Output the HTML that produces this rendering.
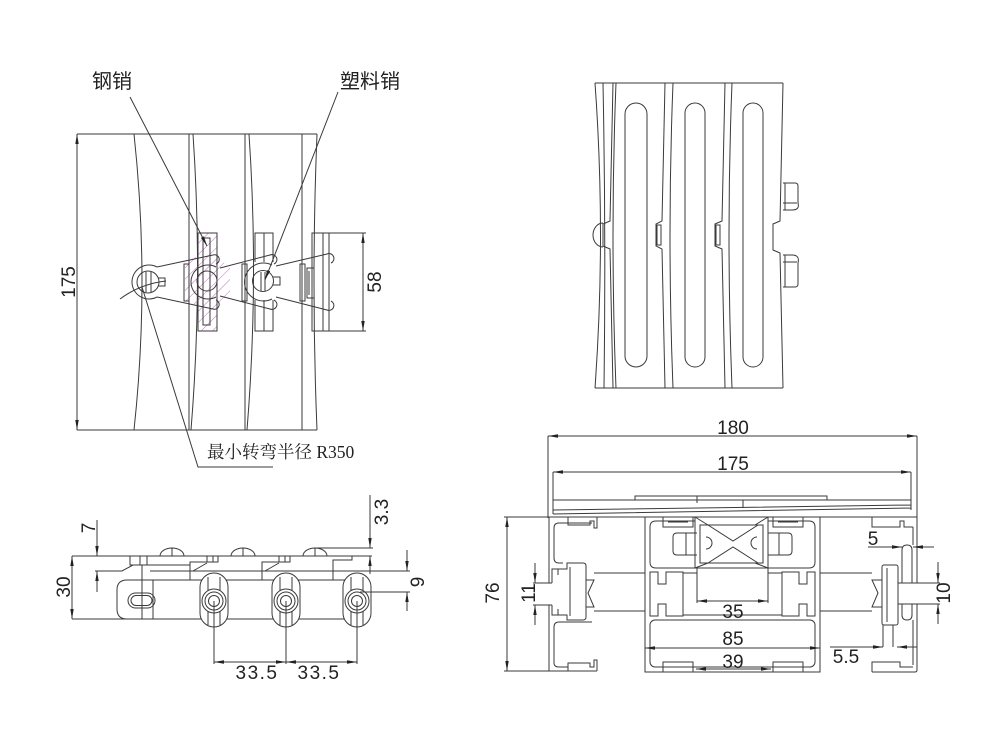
<!DOCTYPE html>
<html><head><meta charset="utf-8">
<style>
html,body{margin:0;padding:0;background:#fff;width:1000px;height:750px;overflow:hidden}
svg{display:block}
.t{font-family:"Liberation Sans",Arial,sans-serif;font-size:19px;fill:#222;stroke:none}
.c{font-family:"Liberation Sans","Noto Sans CJK SC",sans-serif;font-size:20px;fill:#222;stroke:none}
.s{font-family:"Liberation Serif","Noto Serif CJK SC",serif;font-size:17.5px;fill:#222;stroke:none}
</style></head><body>
<svg width="1000" height="750" viewBox="0 0 1000 750" xmlns="http://www.w3.org/2000/svg">
<defs>
<marker id="a" viewBox="0 0 10 4" refX="10" refY="2" markerWidth="10" markerHeight="4" markerUnits="userSpaceOnUse" orient="auto-start-reverse"><path d="M0,0.3 L10,2 L0,3.7 z" fill="#222"/></marker>
<pattern id="h" patternUnits="userSpaceOnUse" width="8" height="8" patternTransform="rotate(45)"><line x1="0" y1="0" x2="0" y2="8" stroke="#c070c8" stroke-width="1"/></pattern>
</defs>
<rect width="1000" height="750" fill="#fff"/>
<g fill="none" stroke="#3a3a3a" stroke-width="1">

<!-- ================= TOP-LEFT VIEW ================= -->
<path d="M77,134H317M77,430H317"/>
<line x1="77" y1="134" x2="77" y2="430" marker-start="url(#a)" marker-end="url(#a)"/>
<path d="M134,134Q150,282 134,430"/>
<path d="M189,134V430M193,134Q203,282 191,430"/>
<path d="M245,134V430M249,134Q259,282 247,430"/>
<path d="M302,134V430M317,134Q311,282 317,430"/>

<!-- hatched steel pin region -->
<path d="M198,233H217V331H198Z M185,262L198,256H217L230,268V296L217,306H198L185,300Z" fill="url(#h)" stroke="none"/>
<rect x="198" y="233" width="19" height="98"/>
<rect x="203" y="238" width="7" height="87"/>
<circle cx="207" cy="281" r="10"/>
<path d="M216,267A17,17 0 1 0 216,297"/>

<!-- P3 piece -->
<path d="M255,262V233H273V262M255,300V331H273V300M264,233V262M264,300V331"/>
<!-- right piece -->
<path d="M312,233H329V331H312Z M323,233V331"/>
<path d="M329,233H366M329,331H366"/>
<line x1="363" y1="233" x2="363" y2="331" marker-start="url(#a)" marker-end="url(#a)"/>

<!-- bars -->
<rect x="184" y="264" width="5" height="37"/>
<rect x="242" y="264" width="5" height="37"/>
<rect x="300" y="264" width="5" height="37"/>
<path d="M314,268H307V298H314M309,271V295"/>

<!-- link 1 -->
<path d="M157,267A17,17 0 1 0 157,297"/>
<path d="M157,267L213,255A4.5,4.5 0 0 1 216,264"/>
<path d="M157,297L213,309A4.5,4.5 0 0 0 216,300"/>
<circle cx="148" cy="282" r="11"/>
<path d="M146,272V292M151,272V292M158,278H165V286H158"/>
<!-- link 2 -->
<path d="M220,268L270,255A4.5,4.5 0 0 1 274,264"/>
<path d="M220,296L270,309A4.5,4.5 0 0 0 274,300"/>
<!-- link 3 -->
<path d="M272,265A19,19 0 1 0 272,299"/>
<circle cx="263" cy="281" r="10.5"/>
<path d="M261,272V291M265,272V291M273,277H280V285H273"/>
<path d="M276,266L327,254A4.5,4.5 0 0 1 331,263"/>
<path d="M276,297L327,310A4.5,4.5 0 0 0 331,301"/>

<!-- R350 arc and leaders -->
<path d="M120,299Q140,284 166,281"/>
<line x1="130" y1="97" x2="207" y2="246" marker-end="url(#a)"/>
<line x1="338" y1="92" x2="265" y2="280" marker-end="url(#a)"/>
<path d="M142,287L198,467H273"/>

<text class="t" transform="translate(68,282) rotate(-90)" x="0" y="7" text-anchor="middle">175</text>
<text class="t" transform="translate(374,282) rotate(-90)" x="0" y="7" text-anchor="middle">58</text>
<text class="c" x="92" y="88">钢销</text>
<text class="c" x="340" y="88">塑料销</text>
<text class="s" x="207" y="458">最小转弯半径 R350</text>

<!-- ================= TOP-RIGHT VIEW ================= -->
<path d="M595,83H783M595,388H783"/>
<path d="M595,83Q606,235 595,388"/>
<path d="M603,83Q606,235 604,388"/>
<path d="M613,83L610,221L603,224V246L610,249L613,388"/>
<path d="M616,83Q610,235 616,388"/>
<path d="M665,83L662,221L656,224V246L662,249L665,388"/>
<path d="M673,83Q667,235 673,388"/>
<rect x="657" y="225" width="4" height="20"/>
<path d="M725,83L722,221L715,224V246L722,249L725,388"/>
<path d="M732,83Q726,235 732,388"/>
<rect x="716" y="225" width="4" height="20"/>
<path d="M783,83L780,221L773,224V250L780,253L783,388"/>
<path d="M603,223A10,12 0 0 0 603,247"/>
<path d="M783,183H795Q798,183 798,186V203Q800,210 792,210H783"/>
<path d="M783,203H797M785,183V210"/>
<path d="M783,287H795Q798,287 798,284V263Q800,255 792,255H783"/>
<path d="M783,262H797M785,255V287"/>
<rect x="625" y="103" width="22" height="264" rx="11"/>
<rect x="685" y="103" width="20" height="264" rx="10"/>
<rect x="743" y="103" width="20" height="264" rx="10"/>

<!-- ================= BOTTOM-LEFT VIEW ================= -->
<path d="M72,556H372"/>
<line x1="72" y1="556" x2="72" y2="619" marker-start="url(#a)" marker-end="url(#a)"/>
<path d="M72,619H153"/>
<line x1="97" y1="520" x2="97" y2="556" marker-end="url(#a)"/>
<line x1="97" y1="592" x2="97" y2="571" marker-end="url(#a)"/>
<path d="M95,571H122L133,565M150,571H410"/>
<path d="M160,556A12,8 0 0 1 184,556M172,548V556"/>
<path d="M231,556A12,8 0 0 1 255,556M243,548V556"/>
<path d="M303,556A12,8 0 0 1 327,556M315,548V556"/>
<path d="M315,548H373"/>
<line x1="370" y1="495" x2="370" y2="548" marker-end="url(#a)"/>
<line x1="370" y1="574" x2="370" y2="556" marker-end="url(#a)"/>
<rect x="130" y="556" width="17" height="9"/><path d="M140,556V565M133,565H190"/>
<path d="M190,580V562H207M193,571L207,563"/><rect x="207" y="556" width="11" height="6"/><path d="M213,556V562"/>
<path d="M262,580V562H279M265,571L279,563"/><rect x="279" y="556" width="11" height="6"/><path d="M285,556V562"/>
<path d="M333,580V560H352V556"/>
<path d="M357,580H127Q117,580 117,590V609Q117,619 127,619H357"/>
<path d="M142,565V619M153,580V619"/>
<rect x="128" y="593" width="27" height="15" rx="7.5"/>
<rect x="131" y="595.5" width="21" height="10" rx="5"/>

<rect x="200" y="573" width="28" height="54" rx="14" fill="#fff"/>
<path d="M208,577V625M220,577V625"/>
<circle cx="214" cy="601" r="12" fill="#fff"/><circle cx="214" cy="601" r="9"/><circle cx="214" cy="601" r="5.5"/>
<rect x="272" y="573" width="28" height="54" rx="14" fill="#fff"/>
<path d="M280,577V625M292,577V625"/>
<circle cx="286" cy="601" r="12" fill="#fff"/><circle cx="286" cy="601" r="9"/><circle cx="286" cy="601" r="5.5"/>
<rect x="343" y="573" width="28" height="54" rx="14" fill="#fff"/>
<path d="M351,577V625M363,577V625"/>
<circle cx="357" cy="601" r="12" fill="#fff"/><circle cx="357" cy="601" r="9"/><circle cx="357" cy="601" r="5.5"/>

<path d="M214,601V664M286,601V664M357,601V664"/>
<line x1="214" y1="662" x2="286" y2="662" marker-start="url(#a)" marker-end="url(#a)"/>
<line x1="286" y1="662" x2="357" y2="662" marker-start="url(#a)" marker-end="url(#a)"/>
<line x1="407" y1="550" x2="407" y2="571" marker-end="url(#a)"/>
<line x1="407" y1="611" x2="407" y2="592" marker-end="url(#a)"/>
<path d="M360,592H410"/>

<text class="t" transform="translate(63,587) rotate(-90)" x="0" y="7" text-anchor="middle">30</text>
<text class="t" transform="translate(88,528) rotate(-90)" x="0" y="7" text-anchor="middle">7</text>
<text class="t" transform="translate(381,512) rotate(-90)" x="0" y="7" text-anchor="middle">3.3</text>
<text class="t" transform="translate(417,582) rotate(-90)" x="0" y="7" text-anchor="middle">9</text>
<text class="t" x="257" y="679" text-anchor="middle" letter-spacing="1.5">33.5</text>
<text class="t" x="319" y="679" text-anchor="middle" letter-spacing="1.5">33.5</text>

<!-- ================= BOTTOM-RIGHT VIEW ================= -->
<line x1="548" y1="436" x2="917" y2="436" marker-start="url(#a)" marker-end="url(#a)"/>
<path d="M548,436V518M917,436V518"/>
<line x1="553" y1="472" x2="911" y2="472" marker-start="url(#a)" marker-end="url(#a)"/>
<path d="M553,472V500M911,472V500"/>
<!-- plate -->
<path d="M553,500H911M553,500V514M911,500V510M553,514L911,508M553,510L911,505"/>
<path d="M635,500V496H827V500M697,496V503M743,500V508"/>
<path d="M504,517H917"/>
<!-- 76 -->
<line x1="507" y1="517" x2="507" y2="671" marker-start="url(#a)" marker-end="url(#a)"/>
<path d="M504,671H597"/>
<!-- 11 -->
<line x1="535" y1="563" x2="535" y2="583" marker-end="url(#a)"/>
<line x1="535" y1="625" x2="535" y2="605" marker-end="url(#a)"/>
<path d="M533,583H552M533,605H552"/>

<!-- left profile -->
<path d="M549,517V583M549,605V671"/>
<path d="M592,523H559Q554,523 554,528V558Q554,563 559,563H563"/>
<path d="M568,517V525H590V521H594V528H597V517"/>
<path d="M552,583V569H567V563H583Q586,563 586,566V617Q586,620 583,620H567V615H552V605"/>
<path d="M570,567V616M558,569V575M558,609V615"/>
<path d="M586,580H594L588,593L594,607H586"/>
<path d="M594,573H645M594,611H645"/>
<path d="M592,622H559Q554,622 554,627V663Q554,667 559,667H568"/>
<path d="M568,671V663H590V667H594V660H597V671"/>

<!-- center profile -->
<path d="M645,517V672H820V517"/>
<path d="M663,517V527H693V517M668,522H688"/>
<path d="M773,517V527H803V517M778,522H798"/>
<path d="M695,521H656Q650,521 650,527V562Q650,568 656,568H695"/>
<path d="M768,521H809Q815,521 815,527V562Q815,568 809,568H768"/>
<rect x="695" y="517" width="73" height="51"/>
<rect x="700" y="525" width="63" height="38"/>
<path d="M695,517L708,525M768,517L755,525M695,568L708,563M768,568L755,563"/>
<path d="M708,525L733,541L758,525M708,563L733,547L758,563"/>
<path d="M706,537A6,6 0 0 1 706,549M757,537A6,6 0 0 0 757,549"/>
<path d="M697,533H677Q673,533 673,537V551Q673,555 677,555H697M686,533V555"/>
<path d="M768,533H788Q792,533 792,537V551Q792,555 788,555H768M779,533V555"/>
<path d="M697,568V603M768,568V603"/>
<line x1="697" y1="601" x2="768" y2="601" marker-start="url(#a)" marker-end="url(#a)"/>
<path d="M650,572H658V584H666V572H683V616H666V604H658V616H650Z"/>
<path d="M815,572H807V584H799V572H782V616H799V604H807V616H815Z"/>
<path d="M683,573H697M768,573H782M683,615H782"/>
<rect x="650" y="620" width="165" height="47" rx="5"/>
<path d="M663,672V662H693V672M668,667H688"/>
<path d="M773,672V662H803V672M778,667H798"/>
<line x1="645" y1="648" x2="820" y2="648" marker-start="url(#a)" marker-end="url(#a)"/>
<line x1="696" y1="669" x2="771" y2="669" marker-start="url(#a)" marker-end="url(#a)"/>

<!-- right profile -->
<path d="M917,517V583M917,604V670Q917,672 915,672H872"/>
<path d="M872,517V527H900V521H904V527H913"/>
<path d="M913,527V545M902,583V550Q902,545 907,545Q912,545 912,550V583"/>
<path d="M898,583H917M898,604H917"/>
<rect x="882" y="565" width="16" height="60" rx="2"/>
<path d="M887,568V622"/>
<path d="M882,580H872L878,593L872,607H882"/>
<path d="M820,573H872M820,611H872"/>
<path d="M902,604V615Q902,620 907,620Q912,620 912,615V604"/>
<path d="M883,625V647M893,625V647"/>
<path d="M913,620V665"/>
<path d="M872,672V662H900V667H913"/>
<path d="M900,583H940M900,604H940"/>
<line x1="938" y1="562" x2="938" y2="583" marker-end="url(#a)"/>
<line x1="938" y1="624" x2="938" y2="604" marker-end="url(#a)"/>
<line x1="868" y1="547" x2="902" y2="547" marker-end="url(#a)"/>
<line x1="934" y1="547" x2="913" y2="547" marker-end="url(#a)"/>
<line x1="830" y1="647" x2="883" y2="647" marker-end="url(#a)"/>
<line x1="917" y1="647" x2="897" y2="647" marker-end="url(#a)"/>

<text class="t" x="733" y="434" text-anchor="middle">180</text>
<text class="t" x="733" y="470" text-anchor="middle">175</text>
<text class="t" x="733" y="618" text-anchor="middle">35</text>
<text class="t" x="733" y="645" text-anchor="middle">85</text>
<text class="t" x="733" y="668" text-anchor="middle">39</text>
<text class="t" x="873" y="545" text-anchor="middle">5</text>
<text class="t" x="846" y="663" text-anchor="middle">5.5</text>
<text class="t" transform="translate(492,593) rotate(-90)" x="0" y="7" text-anchor="middle">76</text>
<text class="t" transform="translate(528,593) rotate(-90)" x="0" y="7" text-anchor="middle">11</text>
<text class="t" transform="translate(943,593) rotate(-90)" x="0" y="7" text-anchor="middle">10</text>
</g>
</svg>
</body></html>
